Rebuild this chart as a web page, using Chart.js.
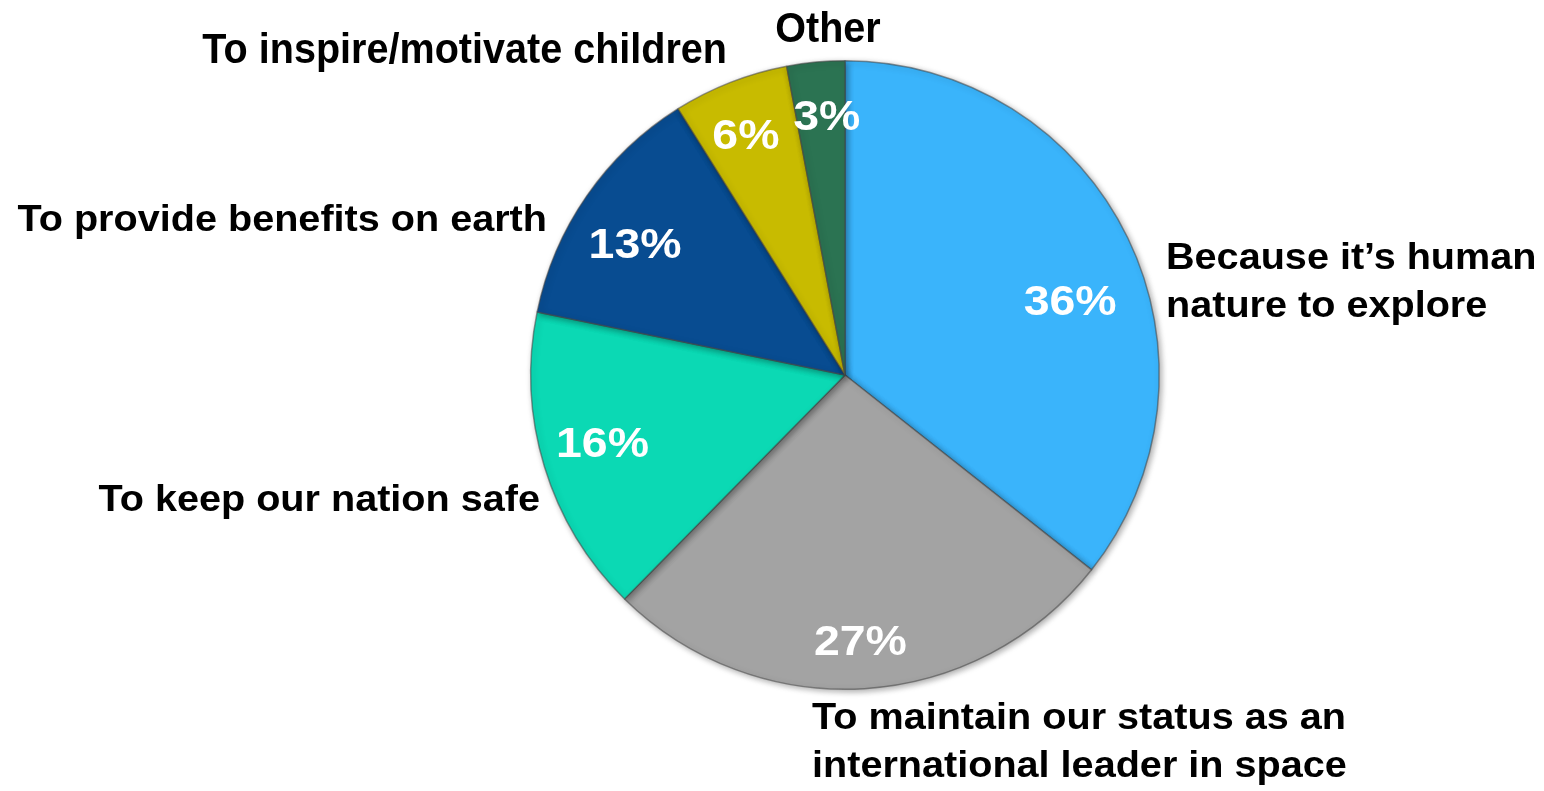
<!DOCTYPE html>
<html>
<head>
<meta charset="utf-8">
<script src="https://cdn.jsdelivr.net/npm/chart.js@4.4.1/dist/chart.umd.min.js"></script>
<style>
  html, body { margin: 0; padding: 0; background: #fff; }
  canvas { display: block; }
</style>
</head>
<body>
<canvas id="pieChart" width="1544" height="791"></canvas>
<script>
// Data
const categories = [
    ['Because it\u2019s human', 'nature to explore'],
    ['To maintain our status as an', 'international leader in space'],
    ['To keep our nation safe'],
    ['To provide benefits on earth'],
    ['To inspire/motivate children'],
    ['Other']
];
const shares = [36, 27, 16, 13, 6, 3];
const pctLabels = ['36%', '27%', '16%', '13%', '6%', '3%'];
const sliceColors = ['#3ab4fb', '#a3a3a3', '#0bd9b4', '#084c91', '#c8bb00', '#2b7352'];

// Label placement, relative to pie centre (text layout only)
const outerLabelLayout = [
    { dx: 321, dy: -106, align: 'left', size: 36, sx: 1.1 },
    { dx: -33, dy: 354, align: 'left', size: 36, sx: 1.1 },
    { dx: -305, dy: 136, align: 'right', size: 36, sx: 1.1 },
    { dx: -298, dy: -144, align: 'right', size: 36, sx: 1.1 },
    { dx: -118, dy: -312, align: 'right', size: 43, sx: 0.92 },
    { dx: -17, dy: -333, align: 'center', size: 43, sx: 0.92 }
];
const pctLabelLayout = [
    { frac: 0.75, dx: 13, dy: 28 },
    { frac: 0.84, dx: -1, dy: 2 },
    { frac: 0.80, dx: -2, dy: -6 },
    { frac: 0.79, dx: -6, dy: 10 },
    { frac: 0.83, dx: -4, dy: 2 },
    { frac: 0.83, dx: 6, dy: 0 }
];

const FONT = '"Liberation Sans", Arial, Helvetica, sans-serif';

const drawText = (ctx, text, x, y, size, sx, align) => {
    ctx.save();
    ctx.font = `bold ${size}px ${FONT}`;
    ctx.textBaseline = 'alphabetic';
    ctx.textAlign = align;
    ctx.translate(x, y);
    ctx.scale(sx, 1);
    ctx.fillText(text, 0, 0);
    ctx.restore();
};

// Soft shadow under the slices
const shadowPlugin = {
    id: 'pieShadow',
    beforeDatasetsDraw(chart) {
        const ctx = chart.ctx;
        ctx.save();
        ctx.shadowColor = 'rgba(0, 0, 0, 0.35)';
        ctx.shadowBlur = 6;
        ctx.shadowOffsetX = 2;
        ctx.shadowOffsetY = 2;
    },
    afterDatasetsDraw(chart) {
        chart.ctx.restore();
    }
};

// Category names outside and percentages inside the slices
const labelPlugin = {
    id: 'pieLabels',
    afterDraw(chart) {
        const ctx = chart.ctx;
        const arcs = chart.getDatasetMeta(0).data;
        arcs.forEach((arc, i) => {
            const { x, y, startAngle, endAngle, outerRadius } = arc.getProps(['x', 'y', 'startAngle', 'endAngle', 'outerRadius'], true);
            const mid = (startAngle + endAngle) / 2;

            // percentage
            const p = pctLabelLayout[i];
            const px = x + Math.cos(mid) * outerRadius * p.frac + p.dx;
            const py = y + Math.sin(mid) * outerRadius * p.frac + p.dy;
            ctx.fillStyle = '#ffffff';
            drawText(ctx, pctLabels[i], px, py + 15, 43, 1.08, 'center');

            // category name
            const o = outerLabelLayout[i];
            ctx.fillStyle = '#000000';
            categories[i].forEach((line, k) => {
                drawText(ctx, line, x + o.dx, y + o.dy + k * 48, o.size, o.sx, o.align);
            });
        });
    }
};

const ctx = document.getElementById('pieChart').getContext('2d');
new Chart(ctx, {
    type: 'pie',
    data: {
        labels: categories.map(c => c.join(' ')),
        datasets: [{
            data: shares,
            backgroundColor: sliceColors,
            borderColor: 'rgba(70, 70, 70, 0.55)',
            borderWidth: 1.5,
            hoverOffset: 0
        }]
    },
    options: {
        responsive: false,
        animation: false,
        layout: {
            padding: { top: 60, bottom: 101, left: 530, right: 384 }
        },
        plugins: {
            legend: { display: false },
            tooltip: { enabled: false }
        }
    },
    plugins: [shadowPlugin, labelPlugin]
});
</script>
</body>
</html>
